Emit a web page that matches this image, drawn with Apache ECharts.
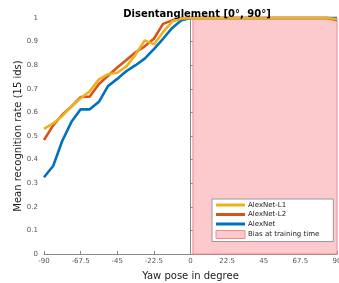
<!DOCTYPE html>
<html>
<head>
<meta charset="utf-8">
<script src="https://cdn.jsdelivr.net/npm/echarts@6/dist/echarts.min.js"></script>
<style>
  html, body { margin: 0; padding: 0; background: #fff; }
  #chart { width: 339px; height: 283px; }
</style>
</head>
<body>
<div id="chart"></div>
<script>
// yaw angles (degrees), step 5.625
const yaw = [-90, -84.375, -78.75, -73.125, -67.5, -61.875, -56.25, -50.625, -45,
  -39.375, -33.75, -28.125, -22.5, -16.875, -11.25, -5.625, 0,
  5.625, 11.25, 16.875, 22.5, 28.125, 33.75, 39.375, 45,
  50.625, 56.25, 61.875, 67.5, 73.125, 78.75, 84.375, 90];

const alexnetL1 = [0.53, 0.553, 0.585, 0.625, 0.66, 0.69, 0.74, 0.762, 0.768,
  0.795, 0.845, 0.905, 0.888, 0.94, 0.985, 0.998, 1,
  1, 1, 1, 1, 1, 1, 1, 1,
  1, 1, 1, 1, 1, 1, 1, 0.995];

const alexnetL2 = [0.483, 0.545, 0.59, 0.625, 0.665, 0.667, 0.72, 0.755, 0.79,
  0.822, 0.855, 0.88, 0.912, 0.975, 0.99, 1, 1,
  1, 1, 1, 1, 1, 1, 1, 1,
  1, 1, 1, 1, 1, 1, 1, 0.99];

const alexnet = [0.325, 0.373, 0.48, 0.56, 0.613, 0.613, 0.645, 0.712, 0.742,
  0.775, 0.8, 0.828, 0.868, 0.912, 0.958, 0.99, 1,
  1, 1, 1, 1, 1, 1, 1, 1,
  1, 1, 1, 1, 1, 1, 1, 1];

// shaded region: yaw range seen at training time
const biasRange = [1.5, 90];

const seriesNames = ['AlexNet-L1', 'AlexNet-L2', 'AlexNet', 'Bias at training time'];

const pair = (xs, ys) => xs.map((x, i) => [x, ys[i]]);

const chart = echarts.init(document.getElementById('chart'));
const lineIcon = 'path://M0,0h29v3h-29z';

const option = {
  animation: false,
  textStyle: { fontFamily: 'DejaVu Sans' },
  title: {
    text: 'Disentanglement [0°, 90°]',
    left: 192, top: 4, textAlign: 'center',
    textStyle: { fontSize: 10, fontWeight: 'bold', color: '#000', fontFamily: 'DejaVu Sans' }
  },
  grid: { left: 44, right: 2, top: 18, bottom: 29, containLabel: false, outerBoundsMode: 'none' },
  legend: {
    orient: 'vertical',
    left: 212, top: 199,
    itemWidth: 29, itemHeight: 8, itemGap: 2.5,
    padding: [2.5, 14, 2.5, 3.5],
    backgroundColor: '#fff',
    borderColor: '#999', borderWidth: 1, borderRadius: 0,
    textStyle: { fontSize: 7, color: '#222', padding: [0, 0, 0, -2] },
    selectedMode: false,
    data: [
      { name: seriesNames[0], icon: lineIcon },
      { name: seriesNames[1], icon: lineIcon },
      { name: seriesNames[2], icon: lineIcon },
      { name: seriesNames[3], icon: 'rect',
        itemStyle: { color: '#fccacd', borderColor: '#f28a90', borderWidth: 1 } }
    ]
  },
  xAxis: {
    type: 'value', min: -90, max: 90, interval: 22.5,
    name: 'Yaw pose in degree', nameLocation: 'middle', nameGap: 17, nameMoveOverlap: false,
    nameTextStyle: { fontSize: 10, color: '#222' },
    axisLine: { onZero: false, lineStyle: { color: '#888', width: 1 } },
    axisTick: { inside: true, length: 3, lineStyle: { color: '#888' } },
    axisLabel: { fontSize: 7, color: '#555', margin: 4 },
    splitLine: { show: false }
  },
  yAxis: {
    type: 'value', min: 0, max: 1, interval: 0.1,
    name: 'Mean recognition rate (15 ids)', nameLocation: 'middle', nameGap: 21, nameMoveOverlap: false,
    nameTextStyle: { fontSize: 10, color: '#222' },
    axisLine: { show: true, lineStyle: { color: '#888', width: 1 } },
    axisTick: { show: true, inside: true, length: 3, lineStyle: { color: '#888' } },
    axisLabel: { fontSize: 7, color: '#555', margin: 6 },
    splitLine: { show: false }
  },
  series: [
    {
      name: seriesNames[3], type: 'line', data: [], color: '#fccacd', z: 1,
      markArea: {
        silent: true,
        itemStyle: { color: '#fccacd', borderColor: '#f28a90', borderWidth: 1 },
        data: [[{ xAxis: biasRange[0], yAxis: 0 }, { xAxis: biasRange[1], yAxis: 1 }]]
      }
    },
    {
      name: seriesNames[2], type: 'line', data: pair(yaw, alexnet), color: '#0072bd',
      showSymbol: false, clip: false, lineStyle: { width: 2.6 }, z: 3
    },
    {
      name: seriesNames[1], type: 'line', data: pair(yaw, alexnetL2), color: '#d95319',
      showSymbol: false, clip: false, lineStyle: { width: 2.6 }, z: 4
    },
    {
      name: seriesNames[0], type: 'line', data: pair(yaw, alexnetL1), color: '#edb120',
      showSymbol: false, clip: false, lineStyle: { width: 2.6 }, z: 5
    }
  ]
};

chart.setOption(option);
</script>
</body>
</html>
